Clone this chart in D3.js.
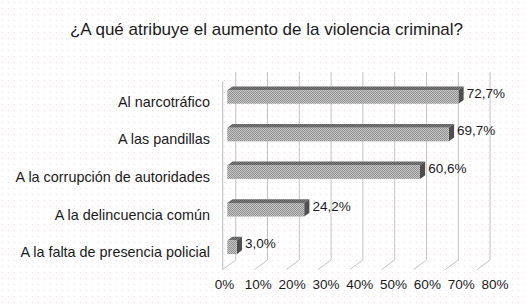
<!DOCTYPE html>
<html>
<head>
<meta charset="utf-8">
<script src="https://cdn.jsdelivr.net/npm/d3@7"></script>
<style>
  html, body { margin: 0; padding: 0; background: #ffffff; }
  svg { display: block; font-family: "Liberation Sans", Arial, Helvetica, sans-serif; }
</style>
</head>
<body>
<svg id="chart" width="527" height="308"></svg>
<script>
// ---- data ----
const title = "¿A qué atribuye el aumento de la violencia criminal?";
const categories = [
  "Al narcotráfico",
  "A las pandillas",
  "A la corrupción de autoridades",
  "A la delincuencia común",
  "A la falta de presencia policial"
];
const values = [72.7, 69.7, 60.6, 24.2, 3.0];
const valueLabels = ["72,7%", "69,7%", "60,6%", "24,2%", "3,0%"];
const tickValues = [0, 10, 20, 30, 40, 50, 60, 70, 80];
const tickLabels = ["0%", "10%", "20%", "30%", "40%", "50%", "60%", "70%", "80%"];

// ---- layout ----
const W = 527, H = 308;
const backTop = 72, backBottom = 260;
const depth = { dx: -13, dy: 9.5 };      // back plane -> front plane
const tBarFront = 0.65, tBarBack = 0.25;  // bar depth fractions

const svg = d3.select("#chart");
const defs = svg.append("defs");

// faint dithered background dots
const bg = defs.append("pattern").attr("id", "bgdots")
  .attr("width", 6).attr("height", 6).attr("patternUnits", "userSpaceOnUse");
bg.append("rect").attr("width", 6).attr("height", 6).attr("fill", "#ffffff");
bg.append("rect").attr("x", 2).attr("y", 2).attr("width", 1).attr("height", 1).attr("fill", "#f3dce3");
svg.append("rect").attr("width", W).attr("height", H).attr("fill", "url(#bgdots)");

// checkered bar front texture
const chk = defs.append("pattern").attr("id", "chk")
  .attr("width", 2).attr("height", 2).attr("patternUnits", "userSpaceOnUse");
chk.append("rect").attr("width", 2).attr("height", 2).attr("fill", "#c4c4c4");
chk.append("rect").attr("x", 0).attr("y", 0).attr("width", 1).attr("height", 1).attr("fill", "#929292");
chk.append("rect").attr("x", 1).attr("y", 1).attr("width", 1).attr("height", 1).attr("fill", "#929292");

const chkTop = defs.append("pattern").attr("id", "chkTop")
  .attr("width", 2).attr("height", 2).attr("patternUnits", "userSpaceOnUse");
chkTop.append("rect").attr("width", 2).attr("height", 2).attr("fill", "#7a7a7a");
chkTop.append("rect").attr("x", 0).attr("y", 0).attr("width", 1).attr("height", 1).attr("fill", "#5e5e5e");
chkTop.append("rect").attr("x", 1).attr("y", 1).attr("width", 1).attr("height", 1).attr("fill", "#5e5e5e");

// scales
const xBack = d3.scaleLinear().domain([0, 80]).range([235.7, 490.1]);
const xFront = d3.scaleLinear().domain([0, 80]).range([235.7 + depth.dx, 490.1 + depth.dx]);
const xTicks = d3.scaleLinear().domain([0, 80]).range([224, 494.5]);
const yBack = d3.scaleBand().domain(categories).range([backTop, backBottom])
  .paddingInner(0.64).paddingOuter(0.32);
const bw = yBack.bandwidth();

// title
svg.append("text")
  .attr("x", 266.5).attr("y", 35)
  .attr("text-anchor", "middle")
  .attr("font-size", 17)
  .attr("fill", "#1a1a1a")
  .text(title);

// gridlines (back wall) + floor diagonals
const grid = svg.append("g").attr("stroke", "#c4c4c4").attr("stroke-width", 1).attr("fill", "none");
tickValues.forEach(v => {
  const x = xBack(v);
  grid.append("path")
    .attr("d", `M${x},${backTop}V${backBottom}L${x + depth.dx},${backBottom + depth.dy}`);
});
// front value axis line
grid.append("line")
  .attr("x1", xFront(0)).attr("x2", xFront(0))
  .attr("y1", backTop + depth.dy).attr("y2", backBottom + depth.dy)
  .attr("stroke", "#b8b8b8");

// bars
const fOff = { x: depth.dx * tBarFront, y: depth.dy * tBarFront };
const bOff = { x: depth.dx * tBarBack, y: depth.dy * tBarBack };
const sx = bOff.x - fOff.x, sy = bOff.y - fOff.y;   // front -> back of bar

const bars = svg.append("g");
categories.forEach((c, i) => {
  const v = values[i];
  const x0 = xBack(0) + fOff.x, x1 = xBack(v) + fOff.x;
  const y0 = yBack(c) + fOff.y, y1 = y0 + bw;
  // top face
  bars.append("path")
    .attr("d", `M${x0},${y0}L${x1},${y0}L${x1 + sx},${y0 + sy}L${x0 + sx},${y0 + sy}Z`)
    .attr("fill", "url(#chkTop)");
  // side face
  bars.append("path")
    .attr("d", `M${x1},${y0}L${x1 + sx},${y0 + sy}L${x1 + sx},${y1 + sy}L${x1},${y1}Z`)
    .attr("fill", "#4e4e4e");
  // front face
  bars.append("rect")
    .attr("x", x0).attr("y", y0)
    .attr("width", x1 - x0).attr("height", bw)
    .attr("fill", "url(#chk)");
  // value label
  bars.append("text")
    .attr("x", x1 + sx + 3)
    .attr("y", y0 + bw / 2 - 4)
    .attr("dy", "0.35em")
    .attr("font-size", 13.5)
    .attr("fill", "#1a1a1a")
    .text(valueLabels[i]);
});

// category labels (front plane)
svg.append("g").selectAll("text").data(categories).join("text")
  .attr("x", 210)
  .attr("y", d => yBack(d) + bw / 2 + depth.dy + 1.5)
  .attr("dy", "0.35em")
  .attr("text-anchor", "end")
  .attr("font-size", 14.4)
  .attr("fill", "#1a1a1a")
  .text(d => d);

// value axis (front bottom)
const axis = d3.axisBottom(xTicks)
  .tickValues(tickValues)
  .tickFormat((d, i) => tickLabels[i])
  .tickSize(0)
  .tickPadding(0);
const gAxis = svg.append("g")
  .attr("transform", `translate(0, ${backBottom + depth.dy + 10})`)
  .call(axis);
gAxis.select(".domain").remove();
gAxis.selectAll("text")
  .attr("font-size", 13.5)
  .attr("font-family", "\"Liberation Sans\", Arial, Helvetica, sans-serif")
  .attr("fill", "#1a1a1a");
</script>
</body>
</html>
